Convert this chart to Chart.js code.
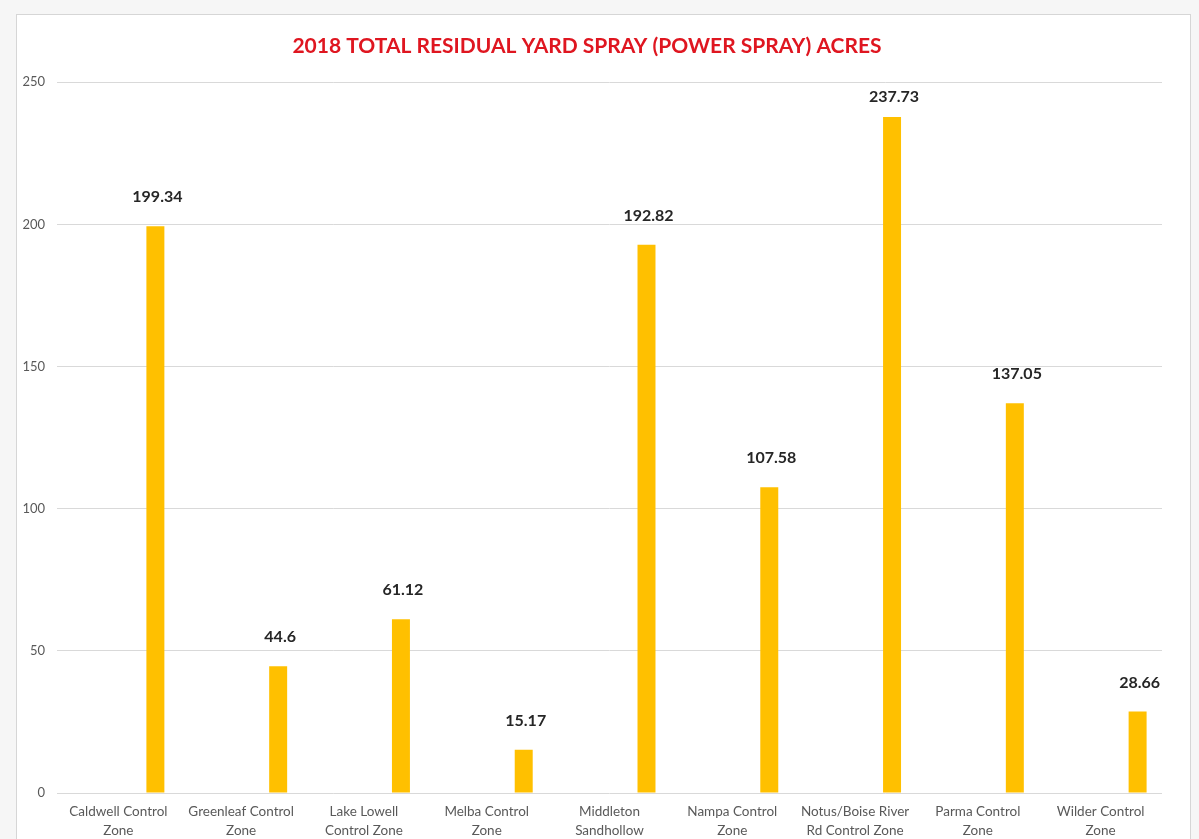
<!DOCTYPE html>
<html>
<head>
<meta charset="utf-8">
<script src="https://cdn.jsdelivr.net/npm/chart.js@4"></script>
<style>
  html, body { margin: 0; padding: 0; width: 1199px; height: 839px; overflow: hidden; background: #f6f6f6; }
  #box { position: absolute; left: 16px; top: 14px; width: 1175px; height: 840px; background: #ffffff; border: 1px solid #d6d6d6; box-sizing: border-box; }
  #wrap { position: absolute; left: 0; top: 0; width: 1199px; height: 839px; }
</style>
</head>
<body>
<div id="box"></div>
<div id="wrap"><canvas id="c" width="1199" height="839"></canvas></div>
<script>
const chartTitle = "2018 TOTAL RESIDUAL YARD SPRAY (POWER SPRAY) ACRES";
const categories = [
  ["Caldwell Control", "Zone"],
  ["Greenleaf Control", "Zone"],
  ["Lake Lowell", "Control Zone"],
  ["Melba Control", "Zone"],
  ["Middleton", "Sandhollow"],
  ["Nampa Control", "Zone"],
  ["Notus/Boise River", "Rd Control Zone"],
  ["Parma Control", "Zone"],
  ["Wilder Control", "Zone"]
];
const acres = [199.34, 44.6, 61.12, 15.17, 192.82, 107.58, 237.73, 137.05, 28.66];
const emptySeries = [null, null, null, null, null, null, null, null, null];
const yTicks = [0, 50, 100, 150, 200, 250];

const valueLabels = {
  id: 'valueLabels',
  afterDatasetsDraw(chart) {
    const ctx = chart.ctx;
    const meta = chart.getDatasetMeta(2);
    const top = chart.chartArea.top;
    ctx.save();
    ctx.font = "bold 16px Lato, 'Open Sans', sans-serif";
    ctx.fillStyle = "#262626";
    ctx.textAlign = "center";
    ctx.textBaseline = "middle";
    meta.data.forEach((bar, i) => {
      const v = chart.data.datasets[2].data[i];
      const y = Math.max(bar.y - 29, top + 15);
      ctx.fillText(String(v), bar.x + 2, y);
    });
    ctx.restore();
  }
};

new Chart(document.getElementById('c'), {
  type: 'bar',
  data: {
    labels: categories,
    datasets: [
      { data: emptySeries, backgroundColor: 'rgba(0,0,0,0)' },
      { data: emptySeries, backgroundColor: 'rgba(0,0,0,0)' },
      { data: acres, backgroundColor: '#FFC000', borderWidth: 0 }
    ]
  },
  options: {
    responsive: false,
    animation: false,
    devicePixelRatio: 1,
    categoryPercentage: 0.904,
    barPercentage: 0.486,
    layout: { padding: { left: 12, right: 37, top: 0, bottom: 0 } },
    plugins: {
      legend: { display: false },
      tooltip: { enabled: false },
      title: {
        display: true,
        text: chartTitle,
        color: '#DF1620',
        font: { family: "Lato, 'Open Sans', sans-serif", size: 21, weight: 'bold', lineHeight: 1.2 },
        padding: { top: 34, bottom: 23 }
      }
    },
    scales: {
      x: {
        grid: { display: false, drawTicks: false },
        border: { display: false },
        ticks: {
          color: '#595959',
          font: { family: "Lato, 'Open Sans', sans-serif", size: 13.5, lineHeight: 1.35 },
          padding: 10,
          maxRotation: 0,
          autoSkip: false
        },
        afterFit(s) { s.height = 46; }
      },
      y: {
        min: 0,
        max: 250,
        afterBuildTicks(s) { s.ticks = yTicks.map(v => ({ value: v })); },
        grid: { color: '#d9d9d9', drawTicks: false, lineWidth: 1 },
        border: { display: false },
        ticks: {
          color: '#595959',
          font: { family: "Lato, 'Open Sans', sans-serif", size: 13 },
          padding: 12
        },
        afterFit(s) { s.width = 45; }
      }
    }
  },
  plugins: [valueLabels]
});
</script>
</body>
</html>
